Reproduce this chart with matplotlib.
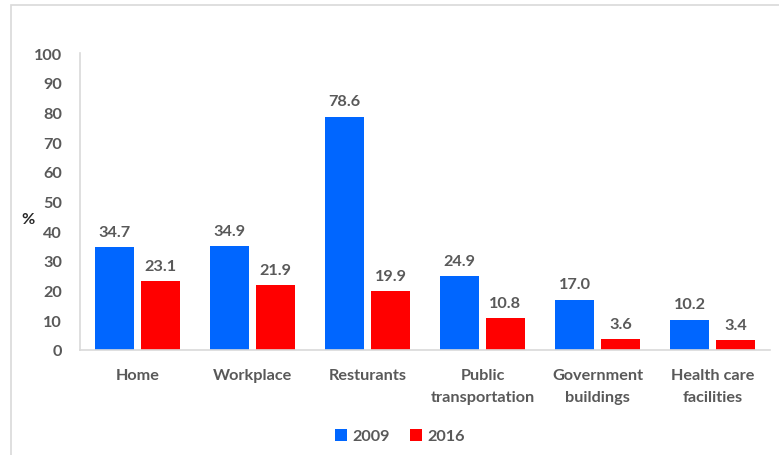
import matplotlib
matplotlib.use("Agg")
import matplotlib.pyplot as plt
import numpy as np
from matplotlib.patches import Rectangle

categories = ["Home", "Workplace", "Resturants", "Public\ntransportation",
              "Government\nbuildings", "Health care\nfacilities"]
series_names = ["2009", "2016"]
values_2009 = [34.7, 34.9, 78.6, 24.9, 17.0, 10.2]
values_2016 = [23.1, 21.9, 19.9, 10.8, 3.6, 3.4]
y_ticks = [0, 10, 20, 30, 40, 50, 60, 70, 80, 90, 100]

plt.rcParams['font.family'] = ['Lato', 'DejaVu Sans']
txt = '#595959'
blue = '#0066FF'
red = '#FF0000'
fs = 11.7

fig = plt.figure(figsize=(7.79, 4.56), dpi=100)
fig.patches.append(Rectangle((11/779, -0.1), 1.0, 1 - 6/456 + 0.1, transform=fig.transFigure,
                             fill=False, edgecolor='#D9D9D9', linewidth=1.2))
ax = fig.add_axes([80/779, 105/456, 690/779, 297/456])

x = np.arange(len(categories))
w = 0.34
off = 0.2
b1 = ax.bar(x - off, values_2009, w, color=blue, label=series_names[0])
b2 = ax.bar(x + off, values_2016, w, color=red, label=series_names[1])
for bars, vals in ((b1, values_2009), (b2, values_2016)):
    for r, v in zip(bars, vals):
        ax.annotate(f"{v:.1f}", (r.get_x() + r.get_width() / 2, v), xytext=(0, 6),
                    textcoords='offset points', ha='center', va='bottom',
                    fontsize=fs, fontweight='bold', color=txt)

ax.set_xlim(-0.5, len(categories) - 0.5)
ax.set_ylim(0, 100)
ax.set_yticks(y_ticks)
ax.set_xticks(x)
ax.set_xticklabels(categories, fontsize=fs, fontweight='bold', color=txt, linespacing=1.75)
ax.tick_params(axis='y', labelsize=fs, labelcolor=txt, length=0, pad=13)
ax.tick_params(axis='x', length=0, pad=13)
for t in ax.get_yticklabels():
    t.set_fontweight('bold')
for s in ['top', 'right']:
    ax.spines[s].set_visible(False)
for s in ['left', 'bottom']:
    ax.spines[s].set_color('#D9D9D9')
    ax.spines[s].set_linewidth(1.2)

fig.text(28/779, 1 - 220/456, "%", ha='center', va='center', fontsize=fs,
         fontweight='bold', color='#262626')

leg = fig.legend(handles=[b1, b2], labels=series_names, loc='center',
                 bbox_to_anchor=(400/779, 1 - 437/456), ncol=2, frameon=False,
                 fontsize=fs, handlelength=0.75, handleheight=0.75, handletextpad=0.35,
                 columnspacing=1.2)
for t in leg.get_texts():
    t.set_color(txt)
    t.set_fontweight('bold')

fig.savefig("out.png", dpi=100)
